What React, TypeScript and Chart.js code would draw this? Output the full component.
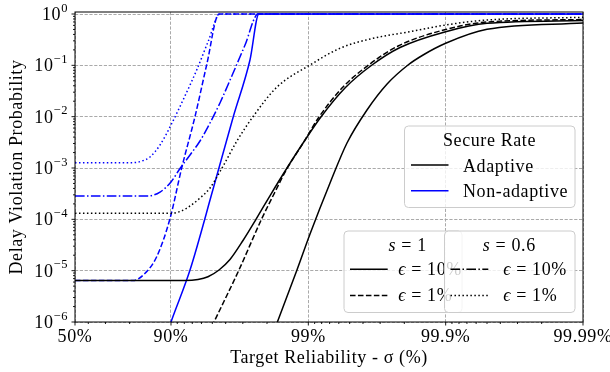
import React, { useEffect, useRef } from 'react';
import { Chart, registerables } from 'chart.js';

Chart.register(...registerables);

const FONT = "'Liberation Serif', 'DejaVu Serif', serif";
const FS = 18;
const LETTER_SPACING = '0.6px';

// ---------- axes ----------
const xTickSigma = [50, 90, 99, 99.9, 99.99];
const xTickLabels = ['50%', '90%', '99%', '99.9%', '99.99%'];
const yTickValues = [1e-6, 1e-5, 1e-4, 1e-3, 1e-2, 1e-1, 1];
const yTickBase = '10';
const yTickExponents = ['−6', '−5', '−4', '−3', '−2', '−1', '0'];
const xAxisTitle = 'Target Reliability - σ (%)';
const yAxisTitle = 'Delay Violation Probability';
const yMin = 1e-6;
const yMax = 1.094;

// ---------- data (σ in %, probability) ----------
// Adaptive, s = 1, ε = 10%
const adaptS1E10Sigma = [50, 92.09, 93.64, 94.62, 95.53, 96.28, 97.01, 97.6, 98.13, 98.57, 98.92, 99.19, 99.459, 99.656, 99.785, 99.9, 99.95, 99.99];
const adaptS1E10Prob = [6.4e-6, 6.4e-6, 6.7e-6, 7.6e-6, 1.03e-5, 1.65e-5, 3.87e-5, 1.01e-4, 3.11e-4, 1.0e-3, 3.21e-3, 9.85e-3, 3.62e-2, 0.1015, 0.2225, 0.452, 0.659, 0.747];
// Adaptive, s = 1, ε = 1%
const adaptS1E1Sigma = [94.35, 95.14, 96.8, 97.81, 98.25, 98.55, 98.91, 99.164, 99.441, 99.644, 99.778, 99.9, 99.95, 99.99];
const adaptS1E1Prob = [4.26e-7, 1.0e-6, 1.03e-5, 1.01e-4, 3.4e-4, 9.14e-4, 3.07e-3, 9.85e-3, 3.78e-2, 0.106, 0.238, 0.499, 0.698, 0.781];
// Adaptive, s = 0.6, ε = 1%
const adaptS06E1Sigma = [50, 89.83, 91.4, 92.73, 93.85, 94.8, 95.75, 96.69, 97.47, 98.31, 99.028, 99.412, 99.662, 99.818, 99.9, 99.95, 99.99];
const adaptS06E1Prob = [1.31e-4, 1.31e-4, 1.42e-4, 1.82e-4, 2.6e-4, 4.07e-4, 1.0e-3, 3.36e-3, 9.98e-3, 3.78e-2, 0.1015, 0.215, 0.336, 0.452, 0.611, 0.764, 0.863];
// Adaptive, s = 0.6, ε = 10% (drawn solid in the figure)
const adaptS06E10Sigma = [98.03, 98.32, 98.79, 99.028, 99.305, 99.477, 99.626, 99.733, 99.812, 99.854, 99.9, 99.95, 99.99];
const adaptS06E10Prob = [3.4e-7, 1.0e-6, 1.03e-5, 5.18e-5, 5.1e-4, 3.07e-3, 1.35e-2, 4.33e-2, 0.1015, 0.159, 0.269, 0.503, 0.668];
// Non-adaptive, s = 1, ε = 10%
const nonS1E10Sigma = [88.94, 90.0, 92.73, 95.08, 96.48, 97.34, 97.71, 99.99];
const nonS1E10Prob = [4.46e-7, 1.0e-6, 1.03e-5, 4.02e-4, 9.98e-3, 0.127, 1, 1];
// Non-adaptive, s = 1, ε = 1%
const nonS1E1Sigma = [50, 81.09, 84.09, 87.29, 89.83, 91.64, 93.31, 94.5, 95.53, 99.99];
const nonS1E1Prob = [6.4e-6, 6.4e-6, 8.23e-6, 1.87e-5, 1.03e-4, 1.0e-3, 9.98e-3, 0.1015, 1, 1];
// Non-adaptive, s = 0.6, ε = 10%
const nonS06E10Sigma = [50, 85.29, 87.98, 90.0, 91.4, 92.73, 93.85, 94.8, 95.6, 96.47, 97.11, 97.68, 99.99];
const nonS06E10Prob = [2.85e-4, 2.85e-4, 3.4e-4, 5.33e-4, 9.77e-4, 1.79e-3, 3.36e-3, 7.52e-3, 1.85e-2, 7.09e-2, 0.249, 1, 1];
// Non-adaptive, s = 0.6, ε = 1%
const nonS06E1Sigma = [50, 81.09, 83.74, 85.78, 87.98, 90.0, 91.96, 93.5, 94.62, 95.6, 99.99];
const nonS06E1Prob = [1.27e-3, 1.27e-3, 1.37e-3, 1.64e-3, 2.81e-3, 6.88e-3, 2.31e-2, 8.11e-2, 0.285, 1, 1];

// ---------- legend text ----------
const legend1Title = 'Secure Rate';
const legend1Labels = ['Adaptive', 'Non-adaptive'];
const legend2Titles = ['1', '0.6'];
const legend2Labels = ['10%', '1%'];

const toNines = (s: number) => -Math.log10(1 - s / 100);
const pts = (sig: number[], p: number[]) => sig.map((s, i) => ({ x: toNines(s), y: p[i] }));

const SOLID: number[] = [];
const DASHED = [5.55, 2.4];
const DASHDOT = [9.6, 2.4, 1.5, 2.4];
const DOTTED = [1.5, 2.475];
const BLACK = '#000000';
const BLUE = '#0000ff';

function ds(label: string, sig: number[], p: number[], color: string, dash: number[]) {
  return {
    label,
    data: pts(sig, p),
    borderColor: color,
    backgroundColor: color,
    borderWidth: 1.5,
    borderDash: dash,
    pointRadius: 0,
    fill: false,
    cubicInterpolationMode: 'monotone' as const,
  };
}

function roundRect(ctx: CanvasRenderingContext2D, x0: number, y0: number, x1: number, y1: number, r: number) {
  ctx.beginPath();
  ctx.moveTo(x0 + r, y0);
  ctx.lineTo(x1 - r, y0);
  ctx.arcTo(x1, y0, x1, y0 + r, r);
  ctx.lineTo(x1, y1 - r);
  ctx.arcTo(x1, y1, x1 - r, y1, r);
  ctx.lineTo(x0 + r, y1);
  ctx.arcTo(x0, y1, x0, y1 - r, r);
  ctx.lineTo(x0, y0 + r);
  ctx.arcTo(x0, y0, x0 + r, y0, r);
  ctx.closePath();
}

function drawBox(ctx: CanvasRenderingContext2D, x0: number, y0: number, x1: number, y1: number) {
  roundRect(ctx, x0, y0, x1, y1, 4);
  ctx.fillStyle = 'rgba(255,255,255,0.8)';
  ctx.fill();
  ctx.strokeStyle = '#cccccc';
  ctx.lineWidth = 1;
  ctx.setLineDash([]);
  ctx.stroke();
}

function drawHandle(ctx: CanvasRenderingContext2D, x0: number, x1: number, y: number, color: string, dash: number[]) {
  ctx.beginPath();
  ctx.setLineDash(dash);
  ctx.strokeStyle = color;
  ctx.lineWidth = 1.5;
  ctx.moveTo(x0, y);
  ctx.lineTo(x1, y);
  ctx.stroke();
  ctx.setLineDash([]);
}

type Run = [string, boolean];
function drawRuns(ctx: CanvasRenderingContext2D, runs: Run[], x: number, baseline: number, align: 'left' | 'center') {
  const widths = runs.map(([t, it]) => {
    ctx.font = `${it ? 'italic ' : ''}${FS}px ${FONT}`;
    return ctx.measureText(t).width;
  });
  const total = widths.reduce((a, b) => a + b, 0);
  let cx = align === 'center' ? x - total / 2 : x;
  ctx.fillStyle = '#000';
  ctx.textBaseline = 'alphabetic';
  ctx.textAlign = 'left';
  runs.forEach(([t, it], i) => {
    ctx.font = `${it ? 'italic ' : ''}${FS}px ${FONT}`;
    ctx.fillText(t, cx, baseline);
    cx += widths[i];
  });
}

const decorPlugin = {
  id: 'decor',
  beforeDraw(chart: any) {
    (chart.ctx as any).letterSpacing = LETTER_SPACING;
  },
  afterDatasetsDraw(chart: any) {
    const { ctx, chartArea: a, scales } = chart;
    const xs = scales.x;
    const ys = scales.y;
    ctx.save();
    ctx.setLineDash([]);
    ctx.strokeStyle = '#000';
    ctx.lineWidth = 0.9;
    // ticks on y (major + minor)
    for (let n = -6; n <= 0; n++) {
      for (let k = 1; k <= 9; k++) {
        const v = k * Math.pow(10, n);
        if (v < yMin * 0.999 || v > yMax) continue;
        const py = ys.getPixelForValue(v);
        const len = k === 1 ? 3.5 : 2;
        ctx.beginPath();
        ctx.moveTo(a.left, py);
        ctx.lineTo(a.left - len, py);
        ctx.stroke();
      }
    }
    // ticks on x (minor at k·10^-d of 1-σ)
    const umin = xs.min;
    const umax = xs.max;
    for (let d = 1; d <= 4; d++) {
      for (let k = 2; k <= 9; k++) {
        const u = -Math.log10(k * Math.pow(10, -d));
        if (u <= umin + 1e-6 || u >= umax - 1e-6) continue;
        const px = xs.getPixelForValue(u);
        ctx.beginPath();
        ctx.moveTo(px, a.bottom);
        ctx.lineTo(px, a.bottom + 2);
        ctx.stroke();
      }
    }
    xTickSigma.forEach((s) => {
      const px = xs.getPixelForValue(toNines(s));
      ctx.beginPath();
      ctx.moveTo(px, a.bottom);
      ctx.lineTo(px, a.bottom + 3.5);
      ctx.stroke();
    });
    // frame
    ctx.lineWidth = 1;
    ctx.strokeRect(a.left, a.top, a.right - a.left, a.bottom - a.top);
    ctx.restore();
  },
  afterDraw(chart: any) {
    const ctx: CanvasRenderingContext2D = chart.ctx;
    const a = chart.chartArea;
    const ys = chart.scales.y;
    ctx.save();
    (ctx as any).letterSpacing = LETTER_SPACING;
    // y tick labels: 10 with superscript exponent
    ctx.fillStyle = '#000';
    ctx.textBaseline = 'alphabetic';
    ctx.textAlign = 'left';
    yTickValues.forEach((v, i) => {
      const py = ys.getPixelForValue(v);
      const exp = yTickExponents[i];
      ctx.font = `12.5px ${FONT}`;
      const ew = ctx.measureText(exp).width;
      ctx.font = `${FS}px ${FONT}`;
      const bw = ctx.measureText(yTickBase).width;
      const right = a.left - 7;
      const x0 = right - ew - bw;
      ctx.fillText(yTickBase, x0, py + 6);
      ctx.font = `12.5px ${FONT}`;
      ctx.fillText(exp, x0 + bw, py - 2.5);
    });

    // Legend 1: Secure Rate
    drawBox(ctx, 404.5, 126, 575, 207.5);
    drawRuns(ctx, [[legend1Title, false]], 489.5, 146, 'center');
    drawHandle(ctx, 411, 448.5, 165, BLACK, SOLID);
    drawRuns(ctx, [[legend1Labels[0], false]], 463, 171.5, 'left');
    drawHandle(ctx, 411, 448.5, 190.7, BLUE, SOLID);
    drawRuns(ctx, [[legend1Labels[1], false]], 463, 197, 'left');

    // Legend 2a: s = 1
    drawBox(ctx, 344, 231, 462, 312.5);
    drawRuns(ctx, [['s', true], [' = ' + legend2Titles[0], false]], 407.7, 251, 'center');
    drawHandle(ctx, 350, 387.7, 269.3, BLACK, SOLID);
    drawRuns(ctx, [['ϵ', true], [' = ' + legend2Labels[0], false]], 398.3, 275, 'left');
    drawHandle(ctx, 350, 387.7, 295.5, BLACK, DASHED);
    drawRuns(ctx, [['ϵ', true], [' = ' + legend2Labels[1], false]], 398.3, 301, 'left');

    // Legend 2b: s = 0.6
    drawBox(ctx, 444.5, 231, 575, 312.5);
    drawRuns(ctx, [['s', true], [' = ' + legend2Titles[1], false]], 509.3, 251, 'center');
    drawHandle(ctx, 450.5, 488.3, 269.3, BLACK, DASHDOT);
    drawRuns(ctx, [['ϵ', true], [' = ' + legend2Labels[0], false]], 503.3, 275, 'left');
    drawHandle(ctx, 450.5, 488.3, 295.5, BLACK, DOTTED);
    drawRuns(ctx, [['ϵ', true], [' = ' + legend2Labels[1], false]], 503.3, 301, 'left');
    ctx.restore();
    (ctx as any).letterSpacing = '0px';
  },
};

export default function App() {
  const ref = useRef<HTMLCanvasElement>(null);
  useEffect(() => {
    const font = { family: FONT, size: FS, lineHeight: 1.2 };
    const chart = new Chart(ref.current as HTMLCanvasElement, {
      type: 'line',
      data: {
        datasets: [
          ds('Adaptive, s=1, ε=10%', adaptS1E10Sigma, adaptS1E10Prob, BLACK, SOLID),
          ds('Adaptive, s=1, ε=1%', adaptS1E1Sigma, adaptS1E1Prob, BLACK, DASHED),
          ds('Adaptive, s=0.6, ε=10%', adaptS06E10Sigma, adaptS06E10Prob, BLACK, SOLID),
          ds('Adaptive, s=0.6, ε=1%', adaptS06E1Sigma, adaptS06E1Prob, BLACK, DOTTED),
          ds('Non-adaptive, s=1, ε=10%', nonS1E10Sigma, nonS1E10Prob, BLUE, SOLID),
          ds('Non-adaptive, s=1, ε=1%', nonS1E1Sigma, nonS1E1Prob, BLUE, DASHED),
          ds('Non-adaptive, s=0.6, ε=10%', nonS06E10Sigma, nonS06E10Prob, BLUE, DASHDOT),
          ds('Non-adaptive, s=0.6, ε=1%', nonS06E1Sigma, nonS06E1Prob, BLUE, DOTTED),
        ],
      },
      options: {
        responsive: false,
        animation: false,
        devicePixelRatio: 1,
        layout: { padding: { top: 12, right: 27, bottom: 0, left: 0 } },
        plugins: { legend: { display: false }, tooltip: { enabled: false } },
        scales: {
          x: {
            type: 'linear',
            bounds: 'data',
            min: toNines(50),
            max: toNines(99.99),
            afterBuildTicks: (s: any) => {
              s.ticks = xTickSigma.map((v) => ({ value: toNines(v) }));
            },
            afterFit: (s: any) => {
              s.height = 50;
              s.paddingLeft = 0;
              s.paddingRight = 0;
            },
            ticks: {
              callback: (_v: any, i: number) => xTickLabels[i],
              font,
              color: '#000',
              padding: 4,
              maxRotation: 0,
              autoSkip: false,
            },
            grid: { drawTicks: false, color: '#a0a0a0', lineWidth: 0.9 },
            border: { display: false, dash: [3.2, 1.6] },
            title: { display: true, text: xAxisTitle, font, color: '#000', padding: { top: 0, bottom: 3 } },
          },
          y: {
            type: 'logarithmic',
            min: yMin,
            max: yMax,
            afterBuildTicks: (s: any) => {
              s.ticks = yTickValues.map((v) => ({ value: v }));
            },
            afterFit: (s: any) => {
              s.width = 75;
              s.paddingTop = 0;
              s.paddingBottom = 0;
            },
            ticks: {
              display: false,
              callback: (_v: any, i: number) => yTickBase + yTickExponents[i],
              autoSkip: false,
            },
            grid: { drawTicks: false, color: '#a0a0a0', lineWidth: 0.9 },
            border: { display: false, dash: [3.2, 1.6] },
            title: { display: true, text: yAxisTitle, font, color: '#000', padding: { top: 6, bottom: 0 } },
          },
        },
      } as any,
      plugins: [decorPlugin],
    });
    return () => chart.destroy();
  }, []);
  return (
    <div style={{ position: 'fixed', left: 0, top: 0, width: 610, height: 372, background: '#fff' }}>
      <canvas ref={ref} width={610} height={372} style={{ display: 'block', width: 610, height: 372 }} />
    </div>
  );
}
